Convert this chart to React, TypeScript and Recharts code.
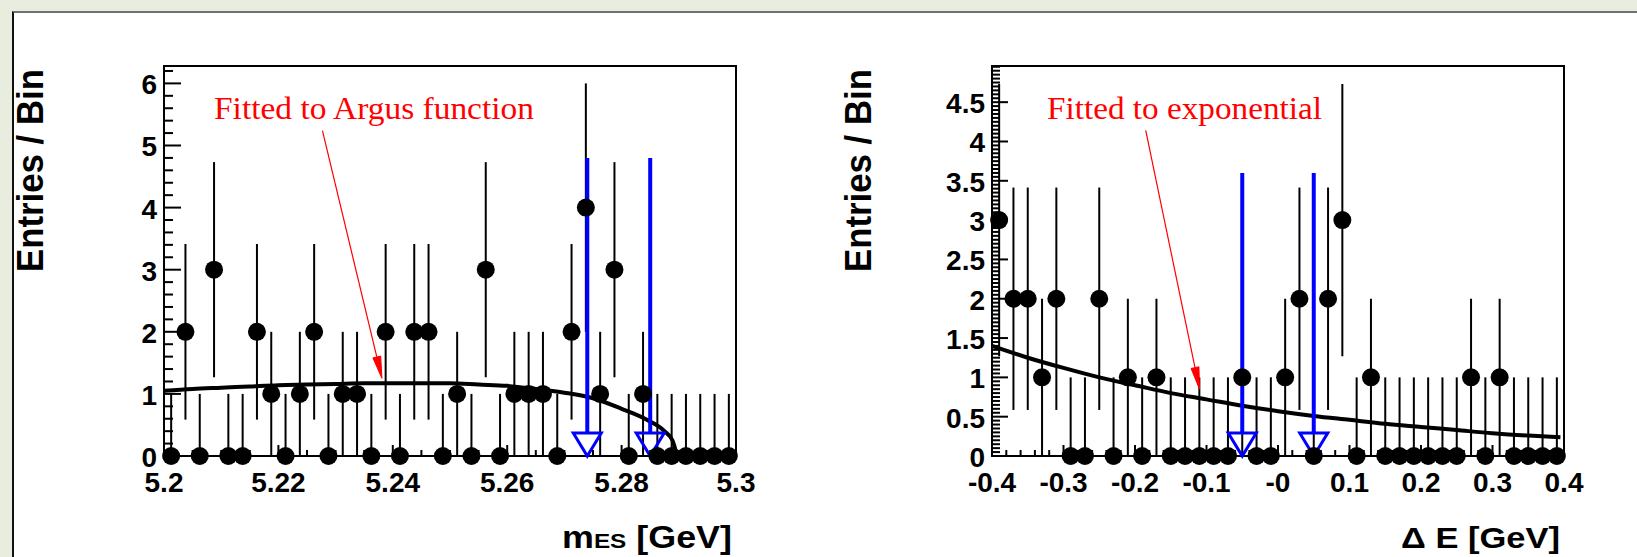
import React from "react";
import {
  ComposedChart,
  Scatter,
  ErrorBar,
  Line,
  XAxis,
  YAxis,
  ReferenceArea,
  ReferenceLine,
} from "recharts";

// ---- m_ES histogram (0.0025 GeV bins) ----
const MES_BINS = [
  5.20125, 5.20375, 5.20625, 5.20875, 5.21125, 5.21375, 5.21625, 5.21875, 5.22125, 5.22375,
  5.22625, 5.22875, 5.23125, 5.23375, 5.23625, 5.23875, 5.24125, 5.24375, 5.24625, 5.24875,
  5.25125, 5.25375, 5.25625, 5.25875, 5.26125, 5.26375, 5.26625, 5.26875, 5.27125, 5.27375,
  5.27625, 5.27875, 5.28125, 5.28375, 5.28625, 5.28875, 5.29125, 5.29375, 5.29625, 5.29875,
];
const MES_COUNTS = [
  0, 2, 0, 3, 0, 0, 2, 1, 0, 1, 2, 0, 1, 1, 0, 2, 0, 2, 2, 0,
  1, 0, 3, 0, 1, 1, 1, 0, 2, 4, 1, 3, 0, 1, 0, 0, 0, 0, 0, 0,
];
// Argus fit curve
const ARGUS_X = [
  5.2, 5.205, 5.21, 5.215, 5.22, 5.225, 5.23, 5.235, 5.24, 5.245, 5.25, 5.255, 5.26, 5.265,
  5.27, 5.275, 5.28, 5.2845, 5.2875, 5.2889, 5.2897,
];
const ARGUS_Y = [
  1.05, 1.08, 1.1, 1.12, 1.14, 1.15, 1.16, 1.17, 1.17, 1.17, 1.17, 1.15, 1.13, 1.08,
  1.02, 0.93, 0.76, 0.58, 0.4, 0.25, 0,
];
const MES_WINDOW = [5.274, 5.285];
const MES_WINDOW_TOP = 4.8;
const MES_Y_MAX = 6.28;
const MES_X_MAJOR = [5.2, 5.22, 5.24, 5.26, 5.28, 5.3];
const MES_X_LABELS = ["5.2", "5.22", "5.24", "5.26", "5.28", "5.3"];
const MES_Y_MAJOR = [0, 1, 2, 3, 4, 5, 6];
const MES_Y_LABELS = ["0", "1", "2", "3", "4", "5", "6"];

// ---- Delta E histogram (0.02 GeV bins) ----
const DE_BINS = [
  -0.39, -0.37, -0.35, -0.33, -0.31, -0.29, -0.27, -0.25, -0.23, -0.21,
  -0.19, -0.17, -0.15, -0.13, -0.11, -0.09, -0.07, -0.05, -0.03, -0.01,
  0.01, 0.03, 0.05, 0.07, 0.09, 0.11, 0.13, 0.15, 0.17, 0.19,
  0.21, 0.23, 0.25, 0.27, 0.29, 0.31, 0.33, 0.35, 0.37, 0.39,
];
const DE_COUNTS = [
  3, 2, 2, 1, 2, 0, 0, 2, 0, 1, 0, 1, 0, 0, 0, 0, 0, 1, 0, 0,
  1, 2, 0, 2, 3, 0, 1, 0, 0, 0, 0, 0, 0, 1, 0, 1, 0, 0, 0, 0,
];
// exponential fit curve
const EXPO_X = [
  -0.4, -0.35, -0.3, -0.25, -0.2, -0.15, -0.1, -0.05, 0, 0.05, 0.1, 0.15, 0.2, 0.25, 0.3,
  0.35, 0.395,
];
const EXPO_Y = [
  1.4, 1.25, 1.12, 1.0, 0.9, 0.8, 0.72, 0.64, 0.57, 0.51, 0.46, 0.41, 0.37, 0.33, 0.29,
  0.26, 0.24,
];
const DE_WINDOW = [-0.05, 0.05];
const DE_WINDOW_TOP = 3.6;
const DE_Y_MAX = 4.96;
const DE_X_MAJOR = [-0.4, -0.3, -0.2, -0.1, 0, 0.1, 0.2, 0.3, 0.4];
const DE_X_LABELS = ["-0.4", "-0.3", "-0.2", "-0.1", "-0", "0.1", "0.2", "0.3", "0.4"];
const DE_Y_MAJOR = [0, 0.5, 1, 1.5, 2, 2.5, 3, 3.5, 4, 4.5];
const DE_Y_LABELS = ["0", "0.5", "1", "1.5", "2", "2.5", "3", "3.5", "4", "4.5"];

const SANS = "'Liberation Sans', Arial, Helvetica, sans-serif";
const SERIF = "'Liberation Serif', 'Times New Roman', serif";
const BLUE = "#0000ff";
const RED = "#ff0000";

const steps = (from: number, to: number, step: number) => {
  const out: number[] = [];
  for (let v = from; v <= to + step / 1000; v += step) out.push(Math.round(v * 1e6) / 1e6);
  return out;
};

// Poisson errors; empty bins get a one-sided bar up to 1
const histPoints = (bins: number[], counts: number[]) =>
  bins.map((x, i) => {
    const n = counts[i];
    const e = Math.sqrt(n);
    return { x, y: n, err: n === 0 ? [0, 1] : [e, e] };
  });

const curve = (xs: number[], ys: number[]) => xs.map((x, i) => ({ x, y: ys[i] }));

function axisTick(
  kind: "x" | "y",
  majors: number[],
  labels: string[],
  majorLen: number,
  minorLen: number
) {
  return (props: any) => {
    const { x, y, payload } = props;
    const i = majors.findIndex((m) => Math.abs(m - payload.value) < 1e-6);
    const len = i >= 0 ? majorLen : minorLen;
    if (kind === "y") {
      return (
        <g>
          <line x1={x} y1={y} x2={x + len} y2={y} stroke="#000" strokeWidth={2} />
          {i >= 0 && (
            <text x={x - 7} y={y + 11} textAnchor="end" fontFamily={SANS} fontWeight="bold" fontSize={28} fill="#000">
              {labels[i]}
            </text>
          )}
        </g>
      );
    }
    return (
      <g>
        <line x1={x} y1={y} x2={x} y2={y - len} stroke="#000" strokeWidth={2} />
        {i >= 0 && (
          <text x={x} y={y + 36} textAnchor="middle" fontFamily={SANS} fontWeight="bold" fontSize={28} fill="#000">
            {labels[i]}
          </text>
        )}
      </g>
    );
  };
}

// vertical signal-window arrow with an open triangular head at the bottom
const WindowArrow = (p: any) => {
  const { x1, y1, x2, y2 } = p;
  const head = 23;
  const half = 14;
  return (
    <g>
      <line x1={x1} y1={y1} x2={x2} y2={y2 - head} stroke={BLUE} strokeWidth={4} />
      <polygon
        points={`${x2 - half},${y2 - head} ${x2 + half},${y2 - head} ${x2},${y2}`}
        fill="none"
        stroke={BLUE}
        strokeWidth={3}
      />
    </g>
  );
};

// thin annotation arrow pointing at the fit curve
const NoteArrow = (p: any) => {
  const { x1, y1, x2, y2 } = p;
  const a = Math.atan2(y2 - y1, x2 - x1);
  const L = 22;
  const W = 4;
  const bx = x2 - L * Math.cos(a);
  const by = y2 - L * Math.sin(a);
  const px = -Math.sin(a);
  const py = Math.cos(a);
  return (
    <g>
      <line x1={x1} y1={y1} x2={bx} y2={by} stroke={RED} strokeWidth={1.2} />
      <polygon
        points={`${x2},${y2} ${bx + W * px},${by + W * py} ${bx - W * px},${by - W * py}`}
        fill={RED}
        stroke={RED}
        strokeWidth={1}
      />
    </g>
  );
};

const dot = (p: any) => <circle cx={p.cx} cy={p.cy} r={9} fill="#000" />;

interface PanelProps {
  width: number;
  margin: { top: number; right: number; bottom: number; left: number };
  points: { x: number; y: number; err: number[] }[];
  fit: { x: number; y: number }[];
  xDomain: [number, number];
  yMax: number;
  xMajor: number[];
  xLabels: string[];
  xMinorStep: number;
  yMajor: number[];
  yLabels: string[];
  yMinorStep: number;
  yMajorLen: number;
  yMinorLen: number;
  window: number[];
  windowTop: number;
  note: { x1: number; y1: number; x2: number; y2: number };
}

function Panel(p: PanelProps) {
  const xTicks = steps(p.xDomain[0], p.xDomain[1], p.xMinorStep);
  const yTicks = steps(0, p.yMax, p.yMinorStep);
  return (
    <ComposedChart width={p.width} height={557} margin={p.margin}>
      <XAxis
        dataKey="x"
        type="number"
        domain={p.xDomain}
        ticks={xTicks}
        interval={0}
        height={40}
        axisLine={false}
        tickLine={false}
        tickSize={0}
        tickMargin={0}
        tick={axisTick("x", p.xMajor, p.xLabels, 11, 6)}
      />
      <YAxis
        type="number"
        domain={[0, p.yMax]}
        ticks={yTicks}
        interval={0}
        width={60}
        axisLine={false}
        tickLine={false}
        tickSize={0}
        tickMargin={0}
        tick={axisTick("y", p.yMajor, p.yLabels, p.yMajorLen, p.yMinorLen)}
      />
      <ReferenceArea
        x1={p.xDomain[0]}
        x2={p.xDomain[1]}
        y1={0}
        y2={p.yMax}
        fill="none"
        fillOpacity={0}
        stroke="#000"
        strokeWidth={2}
        ifOverflow="visible"
      />
      <Scatter data={p.points} dataKey="y" shape={dot} isAnimationActive={false}>
        <ErrorBar dataKey="err" direction="y" width={0} stroke="#000" strokeWidth={2} isAnimationActive={false} />
      </Scatter>
      <Line
        data={p.fit}
        dataKey="y"
        type="monotone"
        stroke="#000"
        strokeWidth={4}
        dot={false}
        activeDot={false}
        isAnimationActive={false}
      />
      {p.window.map((wx) => (
        <ReferenceLine
          key={wx}
          segment={[
            { x: wx, y: p.windowTop },
            { x: wx, y: 0 },
          ]}
          ifOverflow="visible"
          shape={WindowArrow}
        />
      ))}
      <ReferenceLine
        segment={[
          { x: p.note.x1, y: p.note.y1 },
          { x: p.note.x2, y: p.note.y2 },
        ]}
        ifOverflow="visible"
        shape={NoteArrow}
      />
    </ComposedChart>
  );
}

export default function App() {
  const mesPoints = histPoints(MES_BINS, MES_COUNTS);
  const dePoints = histPoints(DE_BINS, DE_COUNTS);
  return (
    <div
      style={{
        position: "absolute",
        left: 0,
        top: 0,
        width: 1637,
        height: 557,
        overflow: "hidden",
        background: "#e8eddf",
      }}
    >
      <div
        style={{
          position: "absolute",
          left: 12,
          top: 11,
          right: 0,
          bottom: 0,
          background: "#fff",
          borderTop: "2px solid #707070",
          borderLeft: "2px solid #111",
        }}
      />
      <div style={{ position: "absolute", left: 0, top: 0 }}>
        <Panel
          width={820}
          margin={{ top: 66, right: 84, bottom: 61, left: 104 }}
          points={mesPoints}
          fit={curve(ARGUS_X, ARGUS_Y)}
          xDomain={[5.2, 5.3]}
          yMax={MES_Y_MAX}
          xMajor={MES_X_MAJOR}
          xLabels={MES_X_LABELS}
          xMinorStep={0.005}
          yMajor={MES_Y_MAJOR}
          yLabels={MES_Y_LABELS}
          yMinorStep={0.2}
          yMajorLen={17}
          yMinorLen={9}
          window={MES_WINDOW}
          windowTop={MES_WINDOW_TOP}
          note={{ x1: 5.2277, y1: 5.24, x2: 5.2381, y2: 1.25 }}
        />
      </div>
      <div style={{ position: "absolute", left: 820, top: 0 }}>
        <Panel
          width={817}
          margin={{ top: 66, right: 73, bottom: 61, left: 112 }}
          points={dePoints}
          fit={curve(EXPO_X, EXPO_Y)}
          xDomain={[-0.4, 0.4]}
          yMax={DE_Y_MAX}
          xMajor={DE_X_MAJOR}
          xLabels={DE_X_LABELS}
          xMinorStep={0.02}
          yMajor={DE_Y_MAJOR}
          yLabels={DE_Y_LABELS}
          yMinorStep={0.05}
          yMajorLen={16}
          yMinorLen={8}
          window={DE_WINDOW}
          windowTop={DE_WINDOW_TOP}
          note={{ x1: -0.185, y1: 4.14, x2: -0.1098, y2: 0.85 }}
        />
      </div>
      <svg
        width={1637}
        height={557}
        style={{ position: "absolute", left: 0, top: 0, pointerEvents: "none" }}
      >
        <g fontFamily={SANS} fontWeight="bold" fill="#000">
          <text transform="translate(43,69) rotate(-90)" textAnchor="end" fontSize={36} textLength={203} lengthAdjust="spacingAndGlyphs">
            Entries / Bin
          </text>
          <text transform="translate(871,69) rotate(-90)" textAnchor="end" fontSize={36} textLength={203} lengthAdjust="spacingAndGlyphs">
            Entries / Bin
          </text>
          <text x={732} y={548} textAnchor="end" fontSize={31} textLength={170} lengthAdjust="spacingAndGlyphs">
            m<tspan fontSize={21}>ES</tspan> [GeV]
          </text>
          <text x={1560} y={548} textAnchor="end" fontSize={30} textLength={159} lengthAdjust="spacingAndGlyphs">
            Δ E [GeV]
          </text>
        </g>
        <g fontFamily={SERIF} fill={RED} fontSize={32}>
          <text x={214} y={119} textLength={320} lengthAdjust="spacingAndGlyphs">
            Fitted to Argus function
          </text>
          <text x={1047} y={119} textLength={275} lengthAdjust="spacingAndGlyphs">
            Fitted to exponential
          </text>
        </g>
      </svg>
    </div>
  );
}
